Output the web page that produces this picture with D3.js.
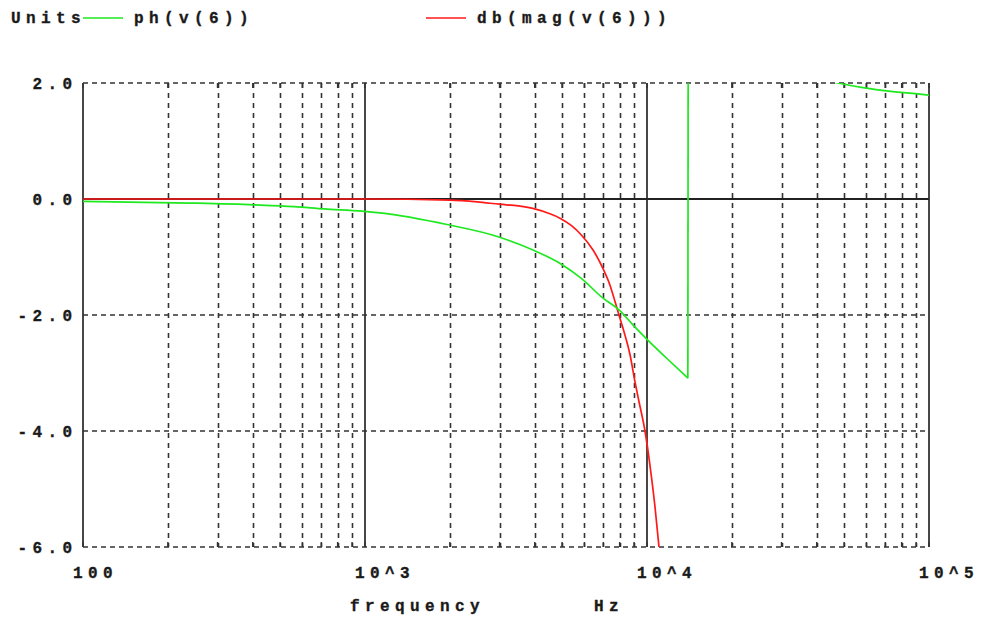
<!DOCTYPE html>
<html>
<head>
<meta charset="utf-8">
<script src="https://cdn.jsdelivr.net/npm/d3@7"></script>
<style>
  body { margin: 0; background: #fff; }
  text { font-family: "Liberation Mono", "DejaVu Sans Mono", monospace; font-weight: bold; fill: #1a1a1a; stroke: #1a1a1a; stroke-width: 0.35; }
</style>
</head>
<body>
<script>
// phase of v(6), radians (wraps at -pi)
const phFreq = [100, 239, 404, 560, 716, 976, 1130, 1954, 2963, 3944, 4955, 5850, 6982, 7955, 8916, 10000, 11770, 13960,
  14000, 17000, 20000, 25000, 30000, 38000, 47600, 58300, 74500, 87700, 100000];
const phVal = [-0.04, -0.07, -0.10, -0.13, -0.17, -0.21, -0.24, -0.44, -0.65, -0.88, -1.12, -1.37, -1.71, -1.91, -2.17, -2.42, -2.75, -3.09,
  3.12, 2.85, 2.65, 2.42, 2.28, 2.12, 2.0, 1.92, 1.85, 1.82, 1.79];

// magnitude of v(6), dB
const dbFreq = [100, 1000, 2000, 2500, 3000, 3500, 4000, 4500, 4913, 5400, 5850, 6436, 6982, 7395, 7706, 7955, 8222, 8710, 9064, 9373, 9838, 10250, 10670, 11030];
const dbVal = [0, 0, -0.02, -0.05, -0.09, -0.12, -0.17, -0.25, -0.33, -0.46, -0.62, -0.88, -1.2, -1.49, -1.77, -2.0, -2.23, -2.69, -3.15, -3.5, -4.0, -4.6, -5.3, -6.0];

const yTicks = [2, 0, -2, -4, -6];
const decades = [100, 1000, 10000, 100000];
const decadeLabels = ["100", "10^3", "10^4", "10^5"];

const width = 985, height = 621;
const margin = {top: 83, right: 56, bottom: 74, left: 83};
const fs = 16, ls = 5.4; // font size, letter spacing

const svg = d3.select("body").append("svg")
  .attr("width", width)
  .attr("height", height);

const x = d3.scaleLog()
  .domain([100, 100000])
  .range([margin.left, width - margin.right]);

const y = d3.scaleLinear()
  .domain([-6, 2])
  .range([height - margin.bottom, margin.top]);

const x0 = x.range()[0], x1 = x.range()[1];
const yTop = y(2), yBot = y(-6);

// minor grid (2..9 in each decade)
const minor = [];
decades.slice(0, 3).forEach(d => { for (let k = 2; k <= 9; k++) minor.push(d * k); });

const grid = svg.append("g");
grid.selectAll(".vminor")
  .data(minor)
  .enter().append("line")
  .attr("x1", d => Math.round(x(d)) + 0.5)
  .attr("x2", d => Math.round(x(d)) + 0.5)
  .attr("y1", yTop)
  .attr("y2", yBot)
  .attr("stroke", "#333")
  .attr("stroke-width", 1.6)
  .attr("stroke-dasharray", "5,5");

// dashed horizontal grid (all but zero)
grid.selectAll(".hgrid")
  .data(yTicks.filter(d => d !== 0))
  .enter().append("line")
  .attr("x1", x0)
  .attr("x2", x1)
  .attr("y1", d => y(d))
  .attr("y2", d => y(d))
  .attr("stroke", "#333")
  .attr("stroke-width", 1.6)
  .attr("stroke-dasharray", "5,4");

// solid decade lines and borders
grid.selectAll(".vmajor")
  .data(decades)
  .enter().append("line")
  .attr("x1", d => x(d))
  .attr("x2", d => x(d))
  .attr("y1", yTop)
  .attr("y2", yBot)
  .attr("stroke", "#333")
  .attr("stroke-width", 1.8);

// zero line
grid.append("line")
  .attr("x1", x0).attr("x2", x1)
  .attr("y1", y(0)).attr("y2", y(0))
  .attr("stroke", "#222")
  .attr("stroke-width", 1.8);

// small ticks at bottom / top
const allTicks = decades.concat(minor);
grid.selectAll(".tb")
  .data(allTicks)
  .enter().append("line")
  .attr("x1", d => x(d)).attr("x2", d => x(d))
  .attr("y1", yBot).attr("y2", yBot - 5)
  .attr("stroke", "#333").attr("stroke-width", 1.5);
grid.selectAll(".tt")
  .data(allTicks)
  .enter().append("line")
  .attr("x1", d => x(d)).attr("x2", d => x(d))
  .attr("y1", yTop).attr("y2", yTop + 5)
  .attr("stroke", "#333").attr("stroke-width", 1.5);

// clip
svg.append("clipPath").attr("id", "clip")
  .append("rect")
  .attr("x", x0).attr("y", yTop)
  .attr("width", x1 - x0).attr("height", yBot - yTop);

const smooth = d3.line()
  .x(d => x(d[0]))
  .y(d => y(d[1]))
  .curve(d3.curveMonotoneX);
const straight = d3.line()
  .x(d => x(d[0]))
  .y(d => y(d[1]));

const curves = svg.append("g").attr("clip-path", "url(#clip)");

curves.append("path")
  .datum(dbFreq.map((f, i) => [f, dbVal[i]]))
  .attr("d", smooth)
  .attr("fill", "none")
  .attr("stroke", "#ff1a1a")
  .attr("stroke-width", 1.7);

// split the phase trace where it wraps around
const phPts = phFreq.map((f, i) => [f, phVal[i]]);
const wrap = phPts.findIndex((p, i) => i > 0 && p[1] - phPts[i - 1][1] > Math.PI);
const phParts = [phPts.slice(0, wrap), phPts.slice(wrap - 1, wrap + 1), phPts.slice(wrap)];
curves.selectAll(".ph")
  .data(phParts)
  .enter().append("path")
  .attr("d", (d, i) => i === 1 ? straight(d) : smooth(d))
  .attr("fill", "none")
  .attr("stroke", "#1ee81e")
  .attr("stroke-width", 1.7);

// y tick labels
svg.selectAll(".ylab")
  .data(yTicks)
  .enter().append("text")
  .attr("x", 72 + ls)
  .attr("y", d => y(d) + 5.5)
  .attr("text-anchor", "end")
  .attr("font-size", fs)
  .attr("letter-spacing", ls)
  .text(d => d3.format(".1f")(d).replace("−", "-"));

// x tick labels
svg.selectAll(".xlab")
  .data(decades)
  .enter().append("text")
  .attr("x", d => x(d) - 10)
  .attr("y", 578)
  .attr("font-size", fs)
  .attr("letter-spacing", ls)
  .text((d, i) => decadeLabels[i]);

// axis title
svg.append("text")
  .attr("x", 350).attr("y", 611)
  .attr("font-size", fs).attr("letter-spacing", ls)
  .text("frequency");
svg.append("text")
  .attr("x", 594).attr("y", 611)
  .attr("font-size", fs).attr("letter-spacing", ls)
  .text("Hz");

// legend
svg.append("text")
  .attr("x", 11).attr("y", 23)
  .attr("font-size", fs).attr("letter-spacing", ls)
  .text("Units");

const legend = [
  {name: "ph(v(6))", color: "#1ee81e", lx: 83, tx: 134},
  {name: "db(mag(v(6)))", color: "#ff1a1a", lx: 426, tx: 477}
];
legend.forEach(l => {
  svg.append("line")
    .attr("x1", l.lx).attr("x2", l.lx + 40)
    .attr("y1", 18).attr("y2", 18)
    .attr("stroke", l.color).attr("stroke-width", 1.7);
  svg.append("text")
    .attr("x", l.tx).attr("y", 23)
    .attr("font-size", fs).attr("letter-spacing", ls)
    .text(l.name);
});
</script>
</body>
</html>
